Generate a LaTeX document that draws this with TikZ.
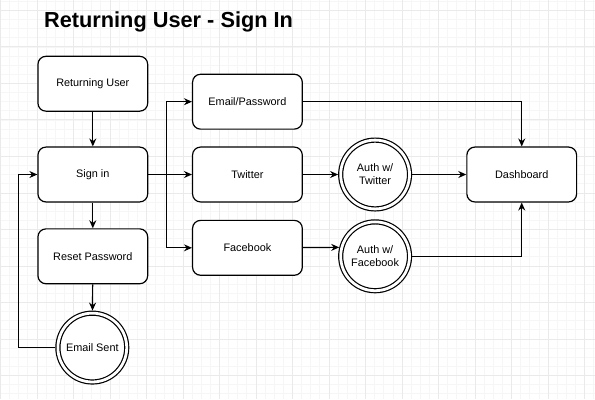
\documentclass[tikz,border=0pt]{standalone}
\usepackage{fontspec}
\setmainfont{Liberation Sans}
\usetikzlibrary{arrows.meta,positioning}

\definecolor{gridminor}{HTML}{F6F6F6}
\definecolor{gridmajor}{HTML}{EAEAEA}

\begin{document}
\begin{tikzpicture}[x=1pt, y=-1pt,
    >={Stealth[length=8pt,width=7pt]},
    box/.style={rectangle, draw, fill=white, rounded corners=8pt, line width=1.2pt,
        minimum width=110pt, minimum height=55pt, font=\fontsize{10.9}{13}\selectfont},
    endstate/.style={circle, draw, fill=white, double, double distance=2.8pt, line width=1.2pt,
        minimum size=69pt, inner sep=0pt, outer sep=2.6pt, align=center,
        font=\fontsize{10.9}{13}\selectfont},
    flow/.style={->, line width=1.2pt}]
    % Background grid
    \fill[white] (0,0) rectangle (595,400);
    \foreach \k in {0,...,65}
        \draw[gridminor, line width=0.8pt] ({-0.6+9.15*\k},0) -- ({-0.6+9.15*\k},400);
    \foreach \k in {0,...,43}
        \draw[gridminor, line width=0.8pt] (0,{0.85+9.15*\k}) -- (595,{0.85+9.15*\k});
    \foreach \k in {0,...,16}
        \draw[gridmajor, line width=0.9pt] ({-0.6+36.6*\k},0) -- ({-0.6+36.6*\k},400);
    \foreach \k in {0,...,10}
        \draw[gridmajor, line width=0.9pt] (0,{10+36.6*\k}) -- (595,{10+36.6*\k});
    \useasboundingbox (0,0) rectangle (595,400);

    % Title
    \node[anchor=base west, inner sep=0pt, font=\bfseries\fontsize{21.8}{26}\selectfont] (title) at (43,27) {Returning User - Sign In};

    % Left column
    \node[box] (user) at (92,83.5) {Returning User};
    \node[box] (signin) at (92,174.5) {Sign in};
    \node[box] (reset) at (92,256.5) {Reset Password};
    \node[endstate] (sent) at (91.5,348) {Email Sent};

    % Sign in options
    \node[box] (emailpw) at (247,101.5) {Email/Password};
    \node[box] (twitter) at (247,174.5) {Twitter};
    \node[box] (facebook) at (247,248) {Facebook};

    % Auth states
    \node[endstate] (authtw) at (375,174.5) {Auth w/\\Twitter};
    \node[endstate] (authfb) at (375,256.5) {Auth w/\\Facebook};

    % Target
    \node[box] (dash) at (522,174.5) {Dashboard};

    % Arrows
    \draw[flow] (user) -- (signin);
    \draw[flow] (signin) -- (reset);
    \draw[flow] (reset) -- (sent);
    \draw[flow] (sent.west) -- ++(-37,0) |- (signin);
    \draw[flow] (signin) -- (twitter);
    \draw[flow] (signin.east) -- ++(18,0) |- (emailpw);
    \draw[flow] (signin.east) -- ++(18,0) |- (facebook);
    \draw[flow] (twitter) -- (authtw);
    \draw[flow] (facebook) -- (authfb.166.5);
    \draw[flow] (emailpw) -| (dash);
    \draw[flow] (authtw) -- (dash);
    \draw[flow] (authfb) -| (dash);
\end{tikzpicture}
\end{document}
